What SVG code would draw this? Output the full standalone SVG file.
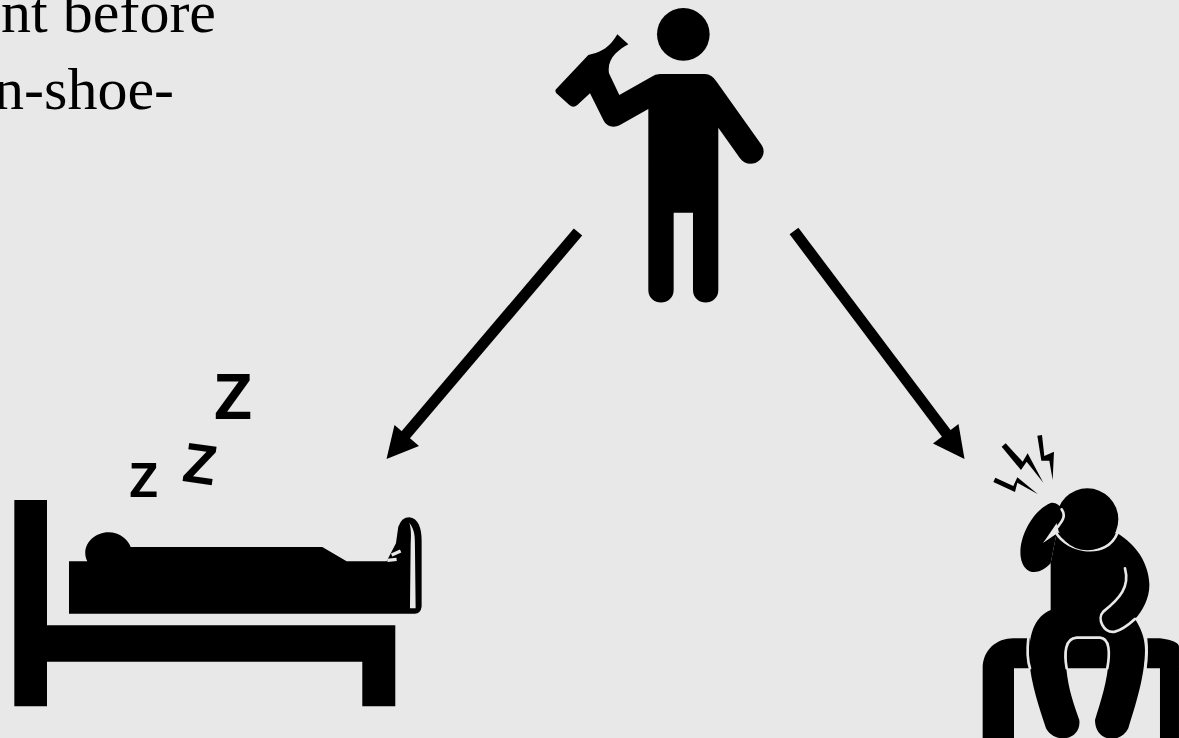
<svg xmlns="http://www.w3.org/2000/svg" width="1179" height="738" viewBox="0 0 1179 738">
<style>
.bg{fill:#e8e8e8}
.k{fill:#000}
.b{fill:#e8e8e8}
.w{fill:none;stroke:#e8e8e8;stroke-width:8;stroke-linecap:round;stroke-linejoin:round}
.t{font-family:"Liberation Serif",serif;font-size:60px;fill:#000;text-anchor:end}
.z{font-family:"Open Sans","DejaVu Sans",sans-serif;font-weight:600;fill:#000;text-anchor:middle}
.c{fill:none;stroke:#000;stroke-width:11}
</style>
<rect class="bg" width="1179" height="738"/>
<g id="caption">
<text class="t" x="216" y="32">nt before</text>
<text class="t" x="174" y="109">n-shoe-</text>
</g>
<g id="connectors">
<path class="c" d="M578 232L403 438"/>
<path class="k" d="M386.5 459L394.5 425L419 446Z"/>
<path class="c" d="M794 231L952 441"/>
<path class="k" d="M964.5 459L933 443.5L958.5 424Z"/>
</g>
<g id="drinker" transform="translate(540 0) scale(.3333)">
<circle class="k" cx="430" cy="103" r="79"/>
<path class="k" d="M48 268L145 165C175 158 205 150 232 103L265 133C235 150 200 175 207 220L238 285L335 230Q345 223 360 222H495Q515 222 530 245L665 435C690 475 630 515 600 475L535 383V870C535 920 459 920 459 870V638H401V870C401 920 325 920 325 870V327L240 375C220 385 200 380 190 360L150 280L112 315Q100 325 88 315L55 285Q42 275 48 268Z"/>
</g>
<g id="sleeper" transform="translate(0 360) scale(.3333)">
<path class="k" d="M43 420H141V796H1186V1039H1087V905H141V1039H43Z"/>
<path class="k" d="M207 604H262C240 560 280 517 325 517C360 517 385 540 392 561H967L1040 604H1160L1188 550L1195 500Q1205 472 1228 472C1255 475 1265 505 1265 540V740Q1262 760 1245 761H207Z"/>
<path class="b" d="M1228 488C1245 510 1245 530 1245 560L1247 745H1230L1232 560C1233 530 1235 510 1228 488Z"/>
<path class="w" style="stroke-width:10;stroke-linecap:butt" d="M1175 585L1202 573M1162 601L1190 598"/>
<text class="z" x="431" y="412" font-size="190">z</text>
<text class="z" x="600" y="370" font-size="215" transform="rotate(8 600 312)">z</text>
<text class="z" x="699" y="178" font-size="252">z</text>
</g>
<g id="hungover" transform="translate(960 420) scale(.3333)">
<path class="k" d="M68 954V745C68 690 110 655 160 655H210V745H162V954ZM560 655H600C640 660 657 670 657 680V954H600V745H560ZM320 655H445V745H320Z"/>
<path class="k" d="M272 249C295 245 315 270 300 295L250 368L290 338L272 430C235 470 190 465 182 410C175 350 220 270 272 249Z"/>
<path class="k" d="M272 430V570C225 590 205 640 208 720C212 790 240 870 258 925C285 975 365 960 358 900C345 860 315 790 318 700C320 660 330 652 350 652H420C445 652 450 670 446 710C445 780 420 850 405 900C405 965 480 975 505 925C525 860 555 770 555 690C555 650 540 620 525 597C550 570 570 530 568 490C565 430 530 375 472 340L290 338Z"/>
<path class="w" d="M288 338C320 395 440 420 472 340M495 445C510 500 480 535 430 575C410 595 430 640 465 635C485 630 505 615 525 597M205 655C200 700 205 730 210 745M558 655C562 690 560 720 556 745M320 745C312 700 315 655 350 653H420C450 655 450 700 442 745"/>
<circle class="k" cx="382" cy="298" r="93"/>
<path class="w" d="M305 268C320 290 305 305 290 325"/>
<path class="b" d="M294 322L248 369L292 340Z"/>
<path class="k" d="M125 80L137 70L188 125L203 100L250 188L200 125L183 150ZM232 47L246 45L253 108L282 95L278 180L268 122L244 122ZM100 186L106 173L160 198L172 172L234 223L172 188L165 216Z"/>
</g>
</svg>
